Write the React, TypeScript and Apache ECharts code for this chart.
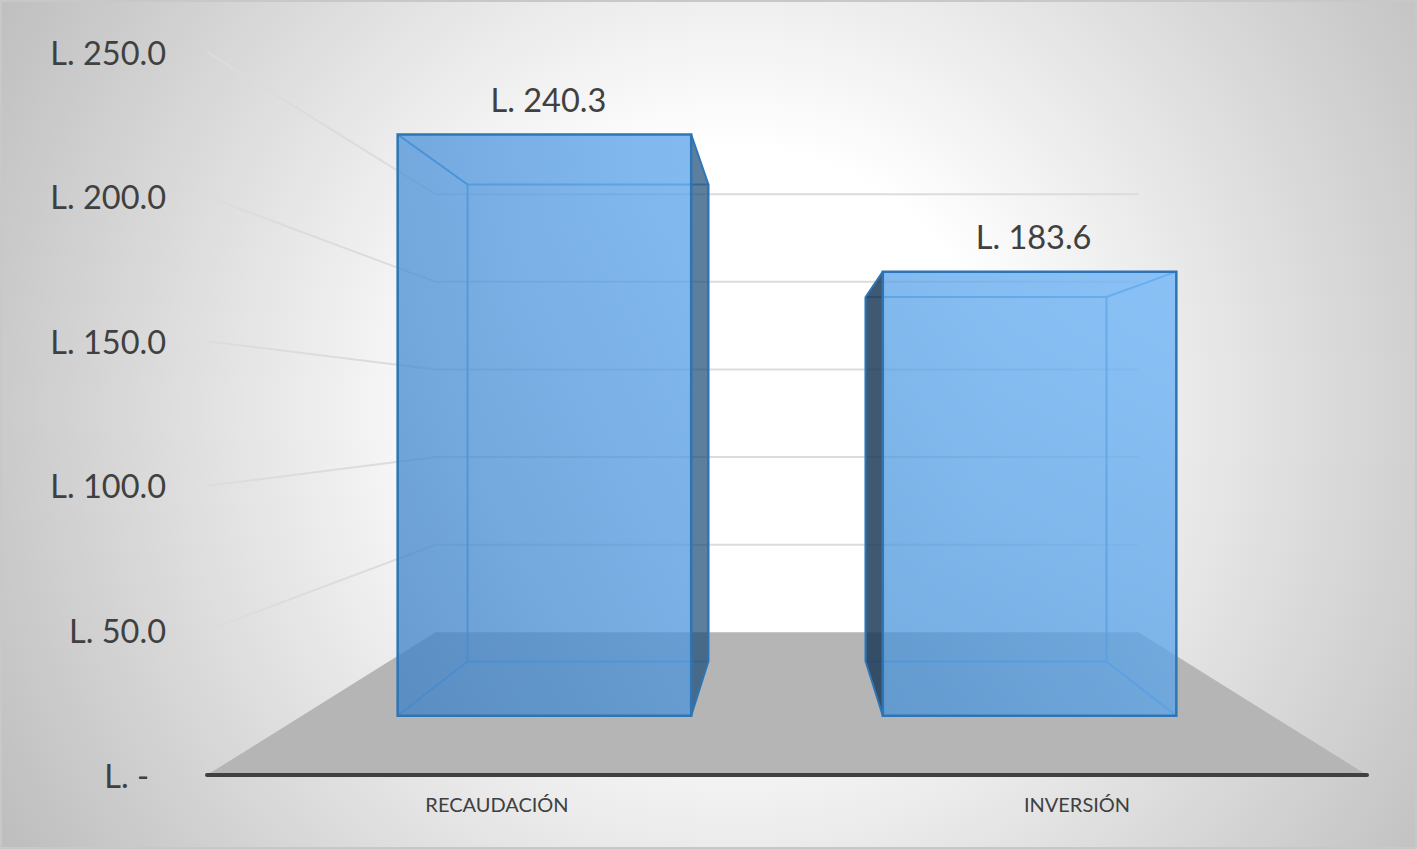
import React, { useEffect, useRef } from "react";
import * as echarts from "echarts";

const categories = ["RECAUDACIÓN", "INVERSIÓN"];
const values = [240.3, 183.6];
const gridValues = [50, 100, 150, 200, 250];

const FONT = "Lato, Carlito, sans-serif";
const TEXT = "#404040";
const VANISH_Y = 413;
const BACK_SCALE = 0.606;
const BAR_FRONT = 0.415;
const BAR_BACK = 0.796;
const BAR_RATIO = 0.605;

function projector(cs: any) {
  const vx = cs.x + cs.width / 2;
  return (p: number[], depth: number) => {
    const k = 1 - (1 - BACK_SCALE) * depth;
    return [vx + (p[0] - vx) * k, VANISH_Y + (p[1] - VANISH_Y) * k];
  };
}

function renderFloor(params: any, api: any) {
  const cs = params.coordSys;
  const project = projector(cs);
  const y0 = api.coord([0, 0])[1];
  const l = [cs.x, y0];
  const r = [cs.x + cs.width, y0];
  return {
    type: "polygon",
    shape: { points: [l, r, project(r, 1), project(l, 1)] },
    style: { fill: "#b5b5b5" },
  };
}

function renderGrid(params: any, api: any) {
  const cs = params.coordSys;
  const project = projector(cs);
  const y = api.coord([0, api.value(1)])[1];
  const l = [cs.x, y];
  const r = [cs.x + cs.width, y];
  return {
    type: "polyline",
    shape: { points: [l, project(l, 1), project(r, 1)] },
    style: { fill: "none", stroke: "#dcdcdc", lineWidth: 2 },
  };
}

function renderBar(params: any, api: any) {
  const cs = params.coordSys;
  const project = projector(cs);
  const cat = api.value(0);
  const val = api.value(1);
  const center = api.coord([cat, val]);
  const base = api.coord([cat, 0]);
  const half = (api.size([1, 0])[0] * BAR_RATIO) / 2;
  const vx = cs.x + cs.width / 2;
  const TL = [center[0] - half, center[1]];
  const TR = [center[0] + half, center[1]];
  const BL = [center[0] - half, base[1]];
  const BR = [center[0] + half, base[1]];
  const f = (p: number[]) => project(p, BAR_FRONT);
  const b = (p: number[]) => project(p, BAR_BACK);
  const line = (pts: number[][], stroke: string, w = 2) => ({
    type: "polyline",
    shape: { points: pts },
    style: { fill: "none", stroke, lineWidth: w },
  });
  const innerSide = center[0] < vx ? [TR, BR] : [TL, BL];
  const outerSide = center[0] < vx ? [TL, BL] : [TR, BR];
  const light = "rgba(91,155,213,0.85)";
  const dark = "#2e75b6";
  const gradient = new echarts.graphic.LinearGradient(1, 0, 0, 1, [
    { offset: 0, color: cat === 0 ? "rgba(92,165,236,0.76)" : "rgba(105,180,250,0.75)" },
    { offset: 1, color: cat === 0 ? "rgba(62,130,198,0.76)" : "rgba(72,145,215,0.75)" },
  ]);
  return {
    type: "group",
    children: [
      line([b(TL), b(TR), b(BR), b(BL), b(TL)], light),
      {
        type: "polygon",
        shape: {
          points: [f(innerSide[0]), b(innerSide[0]), b(innerSide[1]), f(innerSide[1])],
        },
        style: { fill: cat === 0 ? "rgba(31,78,121,0.72)" : "rgba(31,60,90,0.85)" },
      },
      line([f(outerSide[0]), b(outerSide[0])], cat === 0 ? "#3f86cc" : light),
      line([f(outerSide[1]), b(outerSide[1])], light),
      line([f(innerSide[0]), b(innerSide[0]), b(innerSide[1]), f(innerSide[1])], dark),
      {
        type: "polygon",
        shape: { points: [f(TL), f(TR), f(BR), f(BL)] },
        style: { fill: gradient, stroke: dark, lineWidth: 2.5 },
      },
      {
        type: "text",
        x: (f(TL)[0] + f(TR)[0]) / 2 + 4,
        y: f(TL)[1] - 35,
        style: {
          text: "L. " + val.toFixed(1),
          fontSize: 32.5,
          fontFamily: FONT,
          fill: TEXT,
          align: "center",
          verticalAlign: "middle",
        },
      },
    ],
  };
}

export default function App() {
  const ref = useRef<HTMLDivElement>(null);
  useEffect(() => {
    document.body.style.margin = "0";
    const chart = echarts.init(ref.current!, null, { renderer: "svg" });
    chart.setOption({
      animation: false,
      backgroundColor: "transparent",
      grid: { left: 207, right: 50, top: 52, bottom: 74, containLabel: false },
      xAxis: {
        type: "category",
        data: categories,
        axisTick: { show: false },
        axisLine: { lineStyle: { color: "#404040", width: 4 } },
        axisLabel: { fontFamily: FONT, fontSize: 20, color: TEXT, margin: 19 },
        z: 5,
      },
      yAxis: {
        type: "value",
        min: 0,
        max: 250,
        interval: 50,
        splitLine: { show: false },
        axisLine: { show: false },
        axisTick: { show: false },
        axisLabel: {
          fontFamily: FONT,
          fontSize: 32.5,
          color: TEXT,
          margin: 41,
          formatter: (v: number) => (v === 0 ? "{z|L. -}" : "L. " + v.toFixed(1)),
          rich: { z: { fontFamily: FONT, fontSize: 32.5, color: TEXT, padding: [0, 17, 0, 0] } },
        },
      },
      series: [
        { type: "custom", silent: true, clip: false, z: 1, renderItem: renderFloor, data: [[0, 0]] },
        {
          type: "custom",
          silent: true,
          clip: false,
          z: 2,
          renderItem: renderGrid,
          data: gridValues.map((v) => [0, v]),
        },
        {
          type: "custom",
          silent: true,
          clip: false,
          z: 3,
          renderItem: renderBar,
          data: values.map((v, i) => [i, v]),
        },
      ],
    });
    return () => chart.dispose();
  }, []);
  return (
    <div
      style={{
        position: "absolute",
        left: 0,
        top: 0,
        width: 1417,
        height: 849,
        overflow: "hidden",
        background:
          "radial-gradient(circle farthest-corner at 52% 48%, #ffffff 0%, #ffffff 30%, #bdbdbd 100%)",
        boxShadow: "inset 0 0 0 2px #c8c8c8",
      }}
    >
      <div ref={ref} style={{ width: 1417, height: 849 }} />
    </div>
  );
}
